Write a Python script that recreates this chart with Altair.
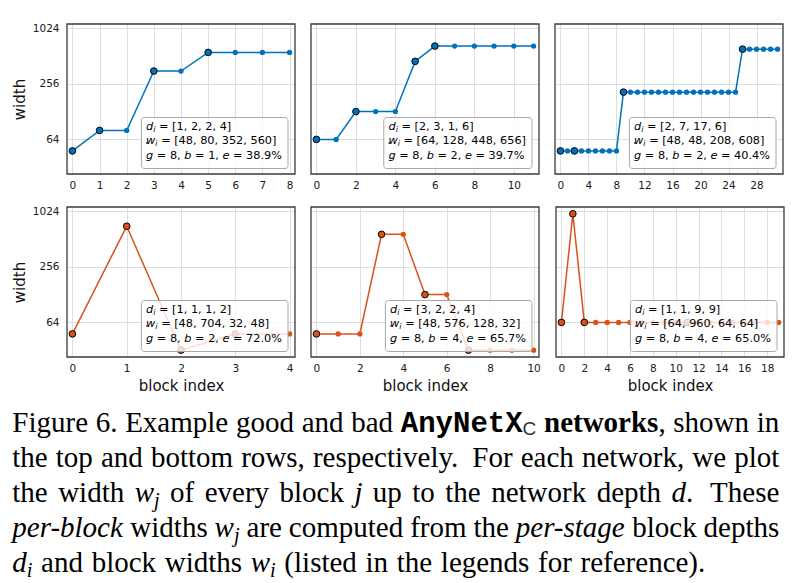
import re
import altair as alt
import pandas as pd
import numpy as np

# ------------------------------------------------------------------ data
top_d = [[1, 2, 2, 4], [2, 3, 1, 6], [2, 7, 17, 6]]
top_w = [[48, 80, 352, 560], [64, 128, 448, 656], [48, 48, 208, 608]]
top_g = [8, 8, 8]
top_b = [1, 2, 2]
top_e = ["38.9%", "39.7%", "40.4%"]

bot_d = [[1, 1, 1, 2], [3, 2, 2, 4], [1, 1, 9, 9]]
bot_w = [[48, 704, 32, 48], [48, 576, 128, 32], [64, 960, 64, 64]]
bot_g = [8, 8, 8]
bot_b = [2, 4, 4]
bot_e = ["72.0%", "65.7%", "65.0%"]

top_xticks = [list(range(0, 9)), list(range(0, 11, 2)), list(range(0, 29, 4))]
bot_xticks = [list(range(0, 5)), list(range(0, 11, 2)), list(range(0, 19, 2))]
y_ticks = [64, 256, 1024]

caption_runs = [
    [("Figure 6. Example good and bad ", "rm"), ("AnyNetX", "tt"), ("C", "sf"),
     (" networks", "bf"), (", shown in", "rm")],
    [("the top and bottom rows, respectively.  For each network, we plot", "rm")],
    [("the width ", "rm"), ("w", "mit"), ("j", "msub"), (" of every block ", "rm"),
     ("j", "mit"), (" up to the network depth ", "rm"), ("d", "mit"), (".  These", "rm")],
    [("per-block", "it"), (" widths ", "rm"), ("w", "mit"), ("j", "msub"),
     (" are computed from the ", "rm"), ("per-stage", "it"), (" block depths", "rm")],
    [("d", "mit"), ("i", "msub"), (" and block widths ", "rm"), ("w", "mit"), ("i", "msub"),
     (" (listed in the legends for reference).", "rm")],
]

# ------------------------------------------------------------------ style
BLUE = "#0072BD"
ORANGE = "#D95319"
PW, PH = 228, 150
FRAME = "#3a3a3a"
GRID = "#dedede"
TICKFONT = 10.5
TITLEFONT = 15
LFS = 11.3  # legend font size

PAD_L, PAD_T = 4, 15
# page-coordinate layout of caption and estimated caption-origin
CAP_X0, CAP_Y0 = 66.7, 398
CAP_LEFT = 12
CAP_RIGHTS = [779, 779, 779, 779, 705]   # right end of each caption line
CAP_BASE = [428.5, 463.5, 498.5, 533.5, 568.5]
CAP_FS = 29

all_w = [v for ws in top_w + bot_w for v in ws]
lo, hi = np.log2(min(all_w)), np.log2(max(all_w))
mg = 0.05 * (hi - lo)
Y_DOMAIN = [float(2 ** (lo - mg)), float(2 ** (hi + mg))]

# DejaVu Sans advance widths (em)
DJV = {' ': .318, ',': .318, '.': .318, '[': .390, ']': .390, '=': .838, '%': .950,
       'd': .635, 'w': .818, 'g': .635, 'b': .635, 'e': .615, 'i': .278}
DJV.update({c: .636 for c in "0123456789"})


def djv_width(s, size):
    return sum(DJV.get(c, .6) for c in s) * size


def one():
    return pd.DataFrame({"k": [0]})


def expand(d, w):
    rows, j = [], 0
    for di, wi in zip(d, w):
        for k in range(di):
            rows.append({"block": j, "width": wi, "start": k == 0})
            j += 1
    return pd.DataFrame(rows)


def text_mark(txt, x, y, size, style="normal", weight="normal", font="DejaVu Sans",
              color="black", baseline="middle"):
    return alt.Chart(one()).mark_text(
        align="left", baseline=baseline, font=font, fontSize=size, fontStyle=style,
        fontWeight=weight, color=color
    ).encode(x=alt.value(x), y=alt.value(y), text=alt.value(txt))


def panel(d, w, g, b, e, color, xt, show_y, show_x):
    df = expand(d, w)
    n = len(df)
    m = 0.025 * (n - 1)
    xs = alt.Scale(domain=[-m, n - 1 + m], nice=False, zero=False)
    ys = alt.Scale(type="log", base=2, domain=Y_DOMAIN, nice=False)
    xaxis = alt.Axis(values=xt, title="block index" if show_x else None, grid=True,
                     ticks=False, tickSize=0, domain=False, labelFontSize=TICKFONT,
                     labelFont="DejaVu Sans", labelColor="#1a1a1a", labelPadding=6,
                     gridColor=GRID, labelFlush=False, titleFont="DejaVu Sans",
                     titleFontSize=TITLEFONT, titleFontWeight="normal", titlePadding=5,
                     titleColor="#111", format="d")
    yaxis = alt.Axis(values=y_ticks, labels=show_y, title="width" if show_y else None,
                     grid=True, ticks=False, tickSize=0, domain=False,
                     labelFontSize=TICKFONT, labelFont="DejaVu Sans", labelColor="#1a1a1a",
                     labelPadding=8, gridColor=GRID, titleFont="DejaVu Sans",
                     titleFontSize=TITLEFONT, titleFontWeight="normal", titlePadding=5,
                     titleColor="#111", format="d")
    base = alt.Chart(df).encode(
        x=alt.X("block:Q", scale=xs, axis=xaxis),
        y=alt.Y("width:Q", scale=ys, axis=yaxis),
    )
    layers = [
        base.mark_line(color=color, strokeWidth=1.5),
        base.mark_circle(color=color, size=28, opacity=1),
        base.transform_filter("datum.start").mark_point(
            shape="circle", filled=True, fill=color, stroke="black", strokeWidth=1,
            size=44, opacity=1),
    ]
    # legend (text box)
    lines = [
        [("d", "it"), ("i", "sub"), (" = [" + ", ".join(map(str, d)) + "]", "rm")],
        [("w", "it"), ("i", "sub"), (" = [" + ", ".join(map(str, w)) + "]", "rm")],
        [("g", "it"), (f" = {g}, ", "rm"), ("b", "it"), (f" = {b}, ", "rm"),
         ("e", "it"), (f" = {e}", "rm")],
    ]

    def segw(t, st):
        return djv_width(t, LFS * 0.7 if st == "sub" else LFS)

    widths = [sum(segw(t, st) for t, st in ln) for ln in lines]
    bw = max(widths) + 4.7 + 6
    bx1 = PW - 7
    bx0 = bx1 - bw
    by1 = PH - 5.5
    by0 = by1 - 51
    layers.append(alt.Chart(one()).mark_rect(
        fill="white", fillOpacity=0.8, stroke="#a8a8a8", strokeWidth=1, cornerRadius=3
    ).encode(x=alt.value(bx0), x2=alt.value(bx1), y=alt.value(by0), y2=alt.value(by1)))
    ly = [by0 + 9.7, by0 + 23.9, by0 + 38.3]
    layers.append(alt.Chart(one()).mark_circle(color=color, size=4, opacity=1).encode(
        x=alt.value(bx0 + 5.5), y=alt.value(ly[1] + 1.5)))
    for ln, yy in zip(lines, ly):
        x = bx0 + 4.7
        for t, st in ln:
            lead = len(t) - len(t.lstrip(" "))
            xx = x + djv_width(" " * lead, LFS)
            tt = t.strip(" ")
            if st == "sub":
                layers.append(text_mark(tt, xx, yy + 3, LFS * 0.7, style="italic"))
            elif st == "it":
                layers.append(text_mark(tt, xx, yy, LFS, style="italic"))
            else:
                layers.append(text_mark(tt, xx, yy, LFS))
            x += segw(t, st)
    # frame
    layers.append(alt.Chart(one()).mark_rect(fill=None, stroke=FRAME, strokeWidth=1.3).encode(
        x=alt.value(0), x2=alt.value(PW), y=alt.value(0), y2=alt.value(PH)))
    return alt.layer(*layers).properties(width=PW, height=PH)


row1 = alt.hconcat(*[
    panel(top_d[i], top_w[i], top_g[i], top_b[i], top_e[i], BLUE, top_xticks[i], i == 0, False)
    for i in range(3)], spacing=14)
row2 = alt.hconcat(*[
    panel(bot_d[i], bot_w[i], bot_g[i], bot_b[i], bot_e[i], ORANGE, bot_xticks[i], i == 0, True)
    for i in range(3)], spacing=14)

# ------------------------------------------------------------------ caption
TR = dict(zip("abcdefghijklmnopqrstuvwxyz",
              [444, 500, 444, 500, 444, 333, 500, 500, 278, 278, 500, 278, 778, 500, 500,
               500, 500, 333, 389, 278, 500, 500, 722, 500, 500, 444]))
TR.update(dict(zip("ABCDEFGHIJKLMNOPQRSTUVWXYZ",
                   [722, 667, 667, 722, 611, 556, 722, 722, 333, 389, 722, 611, 889, 722,
                    722, 556, 722, 667, 556, 611, 722, 722, 944, 722, 722, 611])))
TR.update({' ': 250, ',': 250, '.': 250, '(': 333, ')': 333, '-': 333, '%': 833})
TR.update({c: 500 for c in "0123456789"})
TI = dict(zip("abcdefghijklmnopqrstuvwxyz",
              [500, 500, 444, 500, 444, 278, 500, 500, 278, 278, 444, 278, 722, 500, 500,
               500, 500, 389, 389, 278, 500, 444, 667, 444, 444, 389]))
TI.update({'-': 333, ' ': 250})
TB = dict(zip("abcdefghijklmnopqrstuvwxyz",
              [500, 556, 444, 556, 444, 333, 500, 556, 278, 333, 556, 278, 833, 556, 500,
               556, 556, 444, 389, 333, 556, 500, 722, 500, 500, 444]))
TB.update({' ': 250, ',': 250})
TT = {c: 600 for c in "ABCDEFGHIJKLMNOPQRSTUVWXYZabcdefghijklmnopqrstuvwxyz "}
SF = {'C': 722}

CAP_STYLES = {
    "rm": dict(font="Liberation Serif", fontStyle="normal", fontWeight="normal", size=CAP_FS, dy=0, table=TR, color="black"),
    "it": dict(font="Liberation Serif", fontStyle="italic", fontWeight="normal", size=CAP_FS, dy=0, table=TI, color="black"),
    "mit": dict(font="Liberation Serif", fontStyle="italic", fontWeight="normal", size=CAP_FS, dy=0, table=TI, color="black"),
    "msub": dict(font="Liberation Serif", fontStyle="italic", fontWeight="normal", size=CAP_FS * 0.7, dy=5, table=TI, color="black"),
    "bf": dict(font="Liberation Serif", fontStyle="normal", fontWeight="bold", size=CAP_FS, dy=0, table=TB, color="black"),
    "tt": dict(font="Liberation Mono", fontStyle="normal", fontWeight="bold", size=CAP_FS, dy=0, table=TT, color="black"),
    "sf": dict(font="Liberation Sans", fontStyle="normal", fontWeight="normal", size=19, dy=3, table=SF, color="#333"),
}


def cw(t, st):
    s = CAP_STYLES[st]
    return sum(s["table"].get(c, 500) for c in t) / 1000 * s["size"]


def split_words(runs):
    words, gaps, cur, pend = [], [], [], 0
    for text, st in runs:
        for p in re.split(r"( +)", text):
            if p == "":
                continue
            if p.startswith(" "):
                if cur:
                    words.append(cur)
                    cur = []
                pend += len(p)
            else:
                if pend and words:
                    gaps.append(pend)
                pend = 0
                cur.append((p, st))
    if cur:
        words.append(cur)
    return words, gaps


cap_rows = []
for li, runs in enumerate(caption_runs):
    words, gaps = split_words(runs)
    wlen = [sum(cw(t, st) for t, st in wd) for wd in words]
    nat = [CAP_FS * (0.25 if g == 1 else 0.36) for g in gaps]
    wt = [1.0 if g == 1 else 2.0 for g in gaps]
    extra = (CAP_RIGHTS[li] - CAP_LEFT) - sum(wlen) - sum(nat)
    gw = [n_ + extra * w_ / sum(wt) for n_, w_ in zip(nat, wt)]
    x = CAP_LEFT
    for wi, wd in enumerate(words):
        sx = x
        for t, st in wd:
            cap_rows.append({"t": t, "x": sx - CAP_X0, "y": CAP_BASE[li] - CAP_Y0, "style": st})
            sx += cw(t, st)
        x += wlen[wi] + (gw[wi] if wi < len(gw) else 0)
cap_df = pd.DataFrame(cap_rows)

cap_layers = []
for st, s in CAP_STYLES.items():
    sub = cap_df[cap_df["style"] == st]
    if len(sub) == 0:
        continue
    cap_layers.append(alt.Chart(sub).mark_text(
        align="left", baseline="alphabetic", font=s["font"], fontSize=s["size"],
        fontStyle=s["fontStyle"], fontWeight=s["fontWeight"], color=s["color"], dy=s["dy"]
    ).encode(x=alt.X("x:Q", scale=None, axis=None), y=alt.Y("y:Q", scale=None, axis=None),
             text="t:N"))
caption = alt.layer(*cap_layers).properties(width=779 - CAP_X0, height=574 - CAP_Y0)

plots = alt.vconcat(row1, row2, spacing=15)
chart = alt.vconcat(plots, caption, spacing=7).properties(
    padding={"left": PAD_L, "top": PAD_T, "right": 0, "bottom": 0},
    background="white",
).configure_view(strokeWidth=0, stroke=None)

chart.save("out.html", embed_options={"renderer": "svg", "actions": False})
